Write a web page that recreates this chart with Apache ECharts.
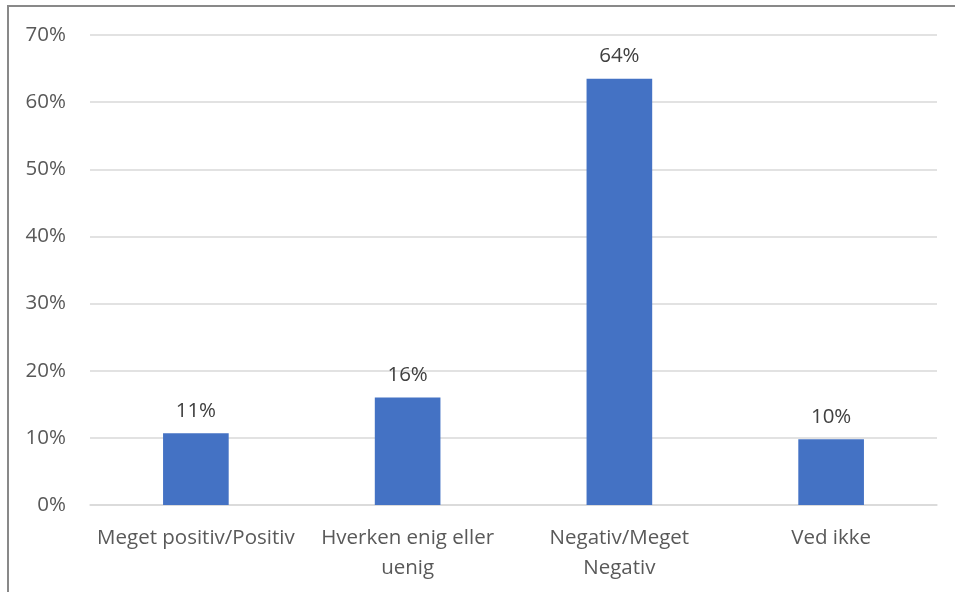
<!DOCTYPE html>
<html><head><meta charset="utf-8">
<script src="https://cdn.jsdelivr.net/npm/echarts@6/dist/echarts.min.js"></script>
<style>
html,body{margin:0;padding:0;background:#fff;overflow:hidden;}
#frame{position:absolute;left:7px;top:5px;width:1000px;height:700px;border:2px solid #898989;box-sizing:border-box;}
#c{position:absolute;left:0;top:0;width:955px;height:592px;}
</style></head>
<body>
<div id="frame"></div>
<div id="c"></div>
<script>
const categories = ['Meget positiv/Positiv', 'Hverken enig eller\nuenig', 'Negativ/Meget\nNegativ', 'Ved ikke'];
const values = [10.7, 16.0, 63.5, 9.8];
const yTicks = [0, 10, 20, 30, 40, 50, 60, 70];

const chart = echarts.init(document.getElementById('c'), null, {renderer: 'canvas'});
const font = '"Open Sans", sans-serif';
chart.setOption({
  animation: false,
  grid: {left: 90, right: 18, top: 35, bottom: 87, containLabel: false},
  xAxis: {
    type: 'category',
    data: categories,
    axisLine: {show: true, lineStyle: {color: '#d9d9d9', width: 1.5}},
    axisTick: {show: false},
    axisLabel: {color: '#595959', fontSize: 20.5, fontFamily: font, lineHeight: 30, margin: 18, interval: 0}
  },
  yAxis: {
    type: 'value',
    min: yTicks[0], max: yTicks[yTicks.length - 1], interval: 10,
    axisLine: {show: false},
    axisTick: {show: false},
    splitLine: {lineStyle: {color: '#d9d9d9', width: 1.5}},
    axisLabel: {color: '#595959', fontSize: 20.5, fontFamily: font, margin: 24, formatter: v => v + '%'}
  },
  series: [{
    type: 'bar',
    data: values,
    barWidth: '31%',
    itemStyle: {color: '#4472c4'},
    label: {show: true, position: 'top', distance: 12, color: '#404040', fontSize: 20.5, fontFamily: font,
      formatter: p => Math.round(p.value) + '%'}
  }]
});
</script>
</body></html>
